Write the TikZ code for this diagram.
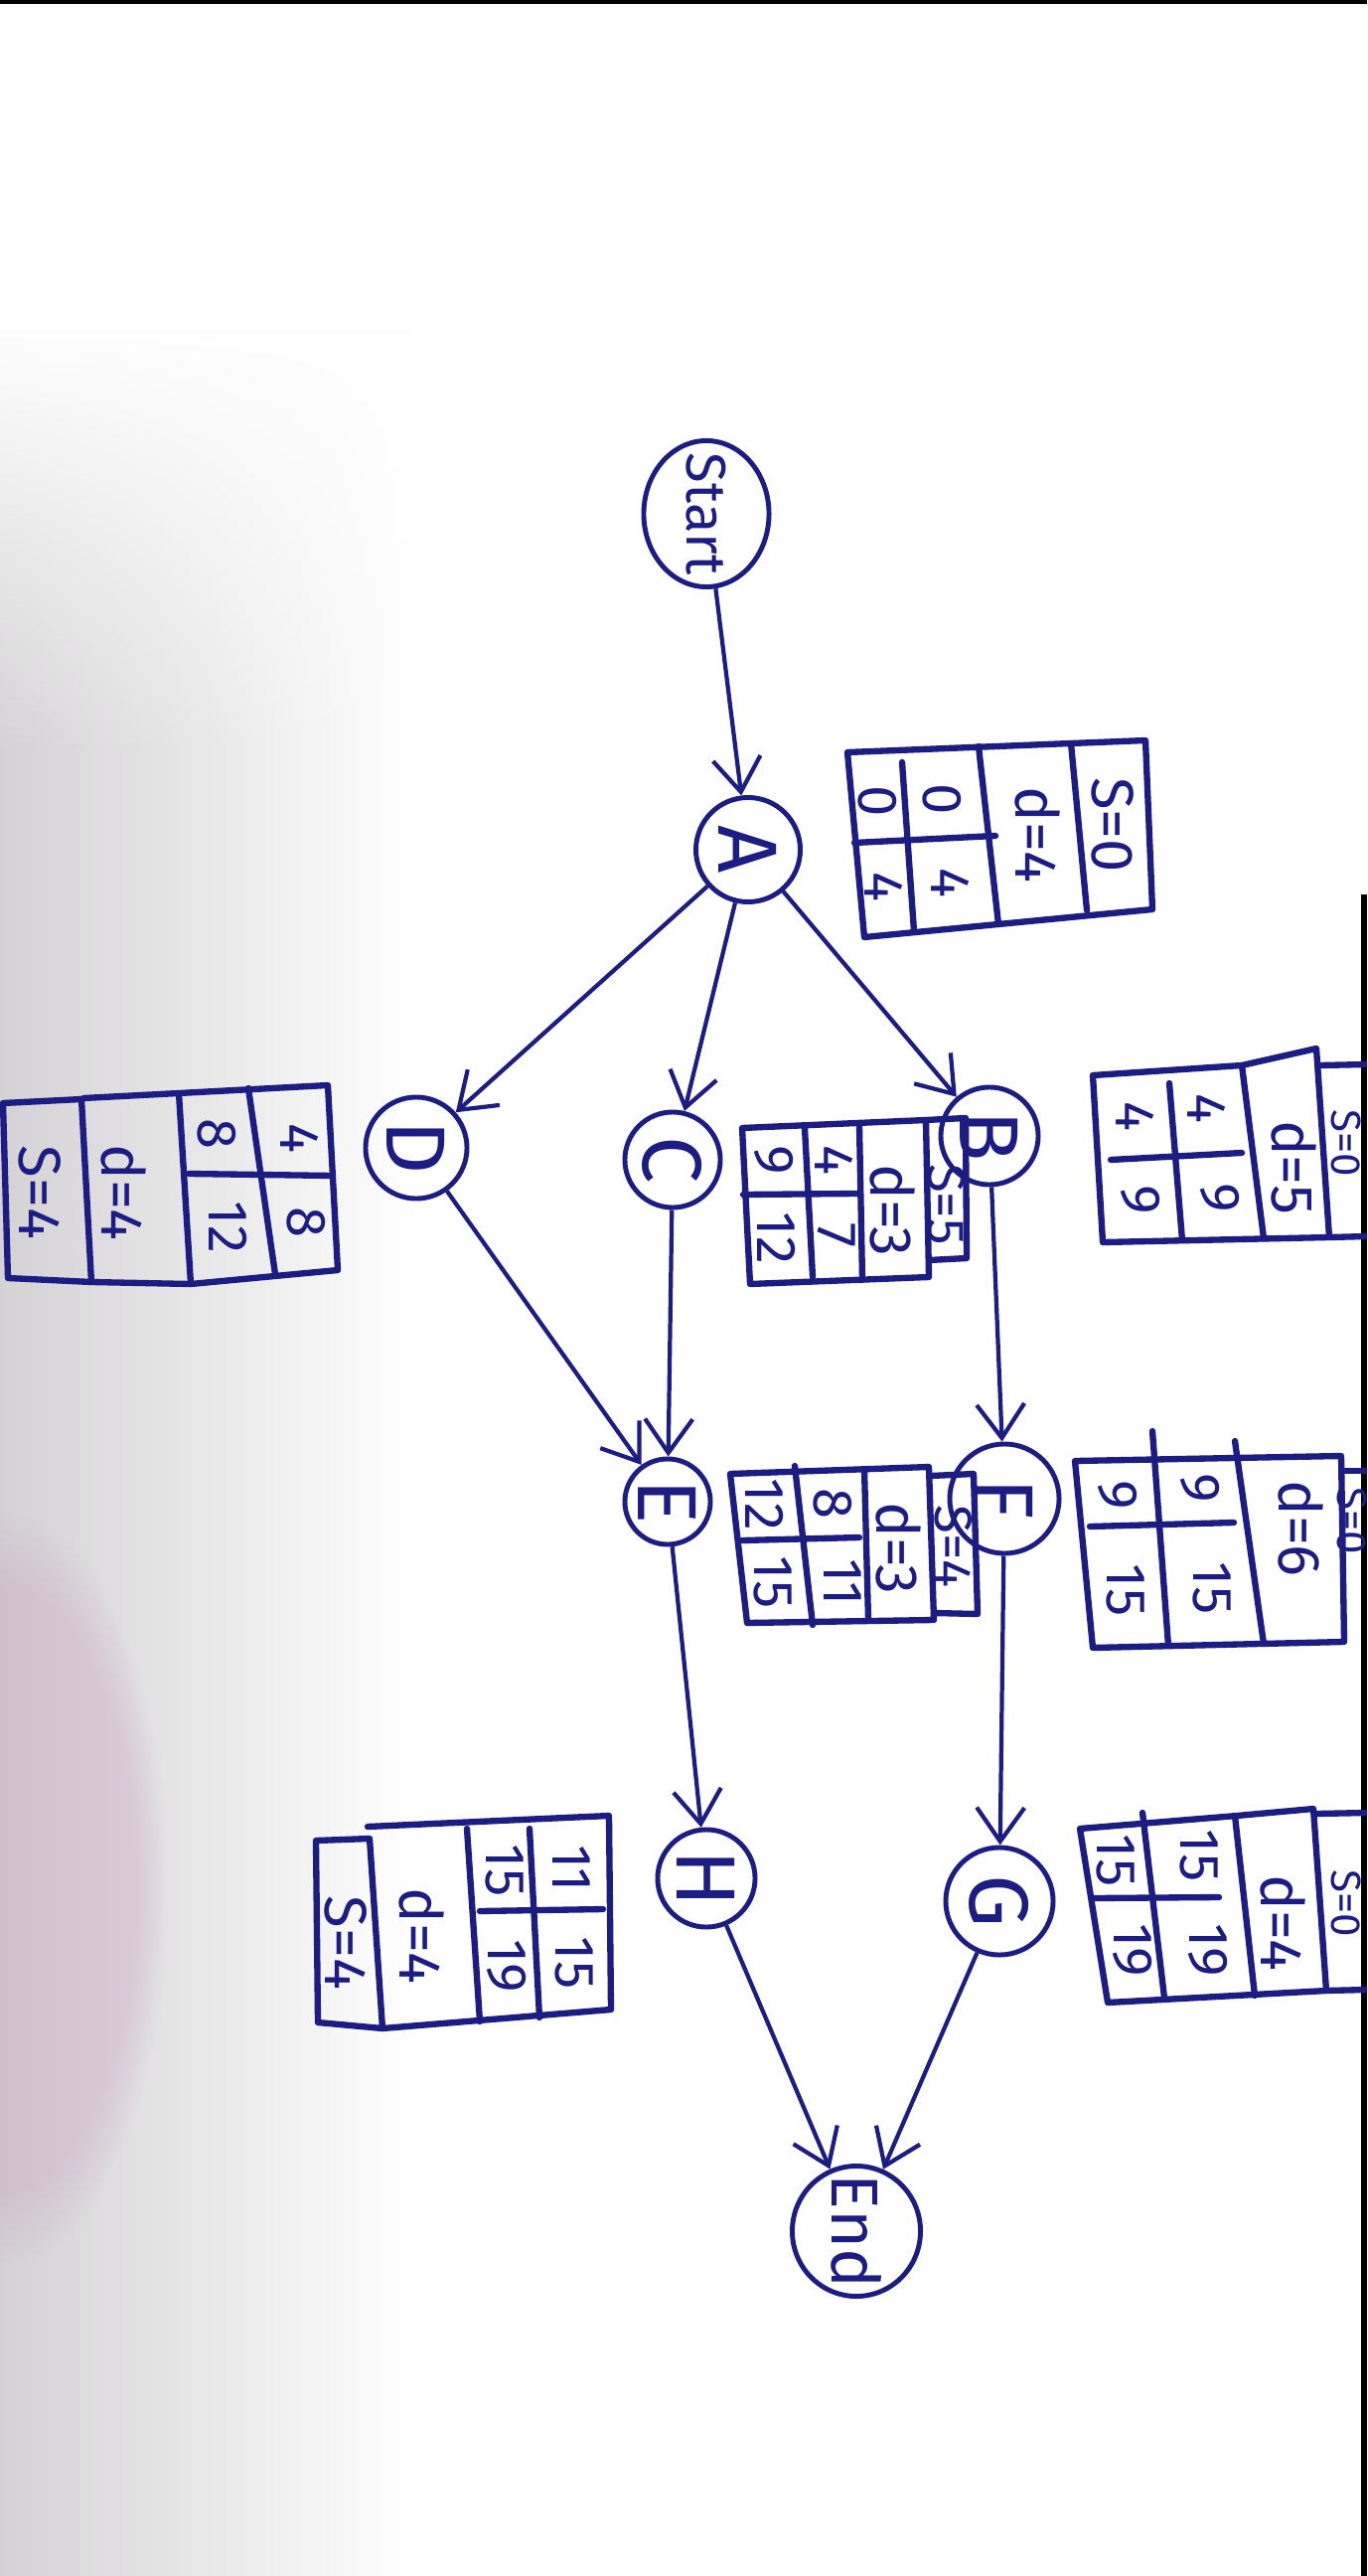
\documentclass[tikz,border=0pt]{standalone}
\usepackage{fontspec}
\setmainfont{Fira Sans}
\usetikzlibrary{arrows.meta,shapes.geometric,fadings}
\definecolor{ink}{RGB}{28,28,130}
\definecolor{smudge}{RGB}{212,210,212}
\definecolor{pinksm}{RGB}{200,160,195}
\begin{document}
\begin{tikzpicture}[x=0.01cm,y=-0.01cm,
  pen/.style={draw=ink,line width=1.8pt,line cap=round,line join=round},
  txt/.style={text=ink,rotate=-90,font=\fontsize{16}{16}\selectfont,inner sep=0pt},
  lbl/.style={text=ink,rotate=-90,font=\fontsize{17}{17}\selectfont,inner sep=0pt},
  edgelbl/.style={text=ink,rotate=-90,font=\fontsize{12}{12}\selectfont,inner sep=0pt},
  state/.style={circle,draw=ink,line width=1.4pt,text=ink,rotate=-90,font=\fontsize{24}{24}\selectfont,inner sep=0pt},
  term/.style={ellipse,draw=ink,line width=1.4pt,text=ink,rotate=-90,inner xsep=-12pt,inner ysep=0pt},
  arr/.style={draw=ink,line width=1.2pt,-{Straight Barb[length=3.4mm,width=4.8mm]}}]
\useasboundingbox (0,0) rectangle (1376,2592);
\clip (0,0) rectangle (1376,2592);
\fill[white] (0,0) rectangle (1376,2592);
% photo smudges
\shade[left color=smudge,right color=white,path fading=north] (0,330) rectangle (420,760);
\shade[left color=smudge,right color=white] (0,760) rectangle (420,2592);
\fill[pinksm,opacity=0.35,path fading=circle with fuzzy edge 20 percent] (0,1900) ellipse (170 and 380);
\fill[black] (0,0) rectangle (1376,4);
\fill[black] (1370,900) rectangle (1376,2592);

% ---------- activity nodes ----------
\node[term,font=\fontsize{16}{16}\selectfont,minimum width=1.47cm,minimum height=1.26cm] (start) at (711,517) {Start};
\node[state,minimum size=1.05cm] (A) at (753,855) {A};
\node[state,minimum size=1.02cm] (D) at (419,1155) {D};
\node[state,minimum size=0.96cm] (C) at (677,1167) {C};
\node[state,minimum size=0.98cm] (B) at (996,1143) {B};
\node[state,minimum size=0.86cm] (E) at (672,1511) {E};
\node[state,minimum size=1.10cm] (F) at (1011,1508) {F};
\node[state,minimum size=0.98cm] (H) at (711,1890) {H};
\node[state,minimum size=1.08cm] (G) at (1006,1913) {G};
\node[term,font=\fontsize{19}{19}\selectfont,minimum width=1.31cm,minimum height=1.29cm] (end) at (862,2245) {End};

% ---------- connectors ----------
\draw[arr] (start) -- (A);
\draw[arr] (A) -- (D);
\draw[arr] (A) -- (C);
\draw[arr] (A) -- (B);
\draw[arr] (D) -- (E);
\draw[arr] (C) -- (E);
\draw[arr] (B) -- (F);
\draw[arr] (E) -- (H);
\draw[arr] (F) -- (G);
\draw[arr] (H) -- (end);
\draw[arr] (G) -- (end);

% ---------- table A ----------
\draw[pen] (853,757) -- (1153,745) -- (1160,915) -- (870,943) -- cycle;
\draw[pen] (908,767) -- (920,937);
\draw[pen] (985,751) -- (1005,930);
\draw[pen] (1078,748) -- (1094,916);
\draw[pen] (860,848) -- (1002,841);
\node[txt] (ta1) at (883,806) {0};
\node[txt] (ta2) at (948,804) {0};
\node[txt] (ta3) at (890,892) {4};
\node[txt] (ta4) at (957,888) {4};
\node[lbl] (ta5) at (1045,840) {d=4};
\node[lbl] (ta6) at (1120,830) {S=0};

% ---------- table B ----------
\draw[pen] (1100,1082) -- (1250,1072) -- (1325,1055) -- (1338,1245) -- (1110,1250) -- cycle;
\draw[pen] (1328,1072) -- (1376,1071);
\draw[pen] (1338,1245) -- (1376,1244);
\draw[pen] (1177,1090) -- (1190,1248);
\draw[pen] (1250,1072) -- (1272,1246);
\draw[pen] (1118,1167) -- (1250,1160);
\node[txt] (tb1) at (1143,1123) {4};
\node[txt] (tb2) at (1215,1115) {4};
\node[txt] (tb3) at (1148,1207) {9};
\node[txt] (tb4) at (1228,1205) {9};
\node[lbl] (tb5) at (1303,1175) {d=5};
\node[edgelbl] (tb6) at (1355,1150) {S=0};

% ---------- table C ----------
\draw[pen] (747,1135) -- (932,1127) -- (935,1285) -- (755,1292) -- cycle;
\draw[pen] (932,1127) -- (972,1125) -- (973,1266) -- (935,1268);
\draw[pen] (810,1135) -- (818,1285);
\draw[pen] (865,1133) -- (868,1288);
\draw[pen] (748,1202) -- (864,1201);
\node[txt] (tc1) at (779,1167) {9};
\node[txt] (tc2) at (840,1167) {4};
\node[txt] (tc3) at (782,1246) {12};
\node[txt] (tc4) at (842,1243) {7};
\node[lbl] (tc5) at (899,1218) {d=3};
\node[edgelbl,font=\fontsize{15}{15}\selectfont] (tc6) at (953,1212) {S=5};

% ---------- table D ----------
\draw[pen] (3,1110) -- (82,1106) -- (92,1290) -- (8,1286) -- cycle;
\draw[pen] (84,1105) -- (180,1100) -- (192,1292) -- (92,1290);
\draw[pen] (180,1100) -- (330,1092) -- (340,1278) -- (192,1292);
\draw[pen] (250,1095) -- (277,1282);
\draw[pen] (190,1181) -- (335,1183);
\node[txt] (td1) at (218,1141) {8};
\node[txt] (td2) at (302,1145) {4};
\node[txt] (td3) at (230,1235) {12};
\node[txt] (td4) at (308,1230) {8};
\node[lbl] (td5) at (125,1200) {d=4};
\node[lbl] (td6) at (40,1200) {S=4};

% ---------- table E ----------
\draw[pen] (735,1483) -- (935,1476) -- (940,1630) -- (752,1633) -- cycle;
\draw[pen] (937,1485) -- (980,1483) -- (984,1624) -- (940,1623);
\draw[pen] (800,1475) -- (818,1635);
\draw[pen] (870,1478) -- (874,1630);
\draw[pen] (747,1550) -- (865,1547);
\node[txt] (te1) at (770,1514) {12};
\node[txt] (te2) at (838,1513) {8};
\node[txt] (te3) at (778,1592) {15};
\node[txt] (te4) at (848,1592) {11};
\node[lbl] (te5) at (905,1558) {d=3};
\node[edgelbl,font=\fontsize{15}{15}\selectfont] (te6) at (960,1556) {S=4};

% ---------- table F ----------
\draw[pen] (1082,1470) -- (1350,1465) -- (1353,1652) -- (1100,1658) -- cycle;
\draw[pen] (1352,1480) -- (1376,1480);
\draw[pen] (1160,1440) -- (1176,1656);
\draw[pen] (1243,1450) -- (1272,1654);
\draw[pen] (1097,1536) -- (1242,1532);
\node[txt] (tf1) at (1125,1504) {9};
\node[txt] (tf2) at (1208,1497) {9};
\node[txt] (tf3) at (1133,1600) {15};
\node[txt] (tf4) at (1220,1598) {15};
\node[lbl] (tf5) at (1310,1538) {d=6};
\node[edgelbl] (tf6) at (1361,1530) {S=0};

% ---------- table G ----------
\draw[pen] (1087,1840) -- (1245,1827) -- (1322,1820) -- (1335,2003) -- (1115,2015) -- cycle;
\draw[pen] (1325,1825) -- (1376,1824);
\draw[pen] (1335,2003) -- (1376,2002);
\draw[pen] (1150,1824) -- (1172,2010);
\draw[pen] (1243,1827) -- (1263,2008);
\draw[pen] (1100,1910) -- (1227,1909);
\node[txt] (tg1) at (1123,1872) {15};
\node[txt] (tg2) at (1207,1867) {15};
\node[txt] (tg3) at (1140,1962) {19};
\node[txt] (tg4) at (1216,1962) {19};
\node[lbl] (tg5) at (1292,1935) {d=4};
\node[edgelbl] (tg6) at (1355,1915) {S=0};

% ---------- table H ----------
\draw[pen] (318,1852) -- (372,1850) -- (385,2041) -- (320,2035) -- cycle;
\draw[pen] (370,1838) -- (613,1827) -- (615,2022) -- (385,2041);
\draw[pen] (470,1840) -- (483,2034);
\draw[pen] (533,1840) -- (543,2030);
\draw[pen] (483,1923) -- (607,1921);
\node[txt] (th1) at (508,1882) {15};
\node[txt] (th2) at (575,1880) {11};
\node[txt] (th3) at (510,1978) {19};
\node[txt] (th4) at (578,1975) {15};
\node[lbl] (th5) at (425,1948) {d=4};
\node[lbl] (th6) at (348,1955) {S=4};
\end{tikzpicture}
\end{document}
